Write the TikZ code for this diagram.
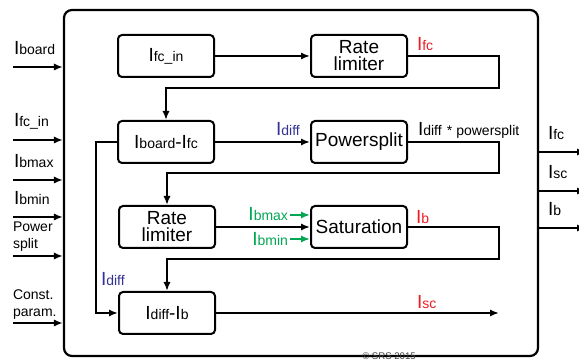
\documentclass[tikz,border=0pt]{standalone}
\usepackage{fontspec}
\setmainfont{Liberation Sans}
\usetikzlibrary{arrows.meta}
\definecolor{sigred}{RGB}{237,28,36}
\definecolor{sigblue}{RGB}{50,50,150}
\definecolor{siggreen}{RGB}{0,166,81}
\newcommand{\cur}[1]{I{\fontsize{7}{8}\selectfont #1}}

\begin{document}
\begin{tikzpicture}[x=0.5pt,y=-0.5pt,line width=1pt,
	>={Latex[length=4.5pt,width=3.6pt]},
	blk/.style={draw,rounded corners=2pt,minimum width=48pt,minimum height=21pt,inner sep=0pt,align=center,font=\fontsize{9.5}{8.5}\selectfont},
	lbl/.style={inner sep=0pt,font=\fontsize{9.5}{8.5}\selectfont},
	inlbl/.style={inner sep=0pt,anchor=west,align=left,font=\fontsize{7}{8.5}\selectfont}]
	\useasboundingbox (0,0) rectangle (579,362);
	\node [draw,rounded corners=4pt,line width=1.1pt,minimum width=237pt,minimum height=173pt,inner sep=0pt] (frame) at (301,183) {};
	%
	\node [blk] (fcin) at (166,56) {\cur{fc\_in}};
	\node [blk] (rate1) at (359,56) {Rate\\limiter};
	\node [blk] (boardfc) at (166,142) {\cur{board}-\cur{fc}};
	\node [blk] (psplit) at (359,142) {Powersplit};
	\node [blk] (rate2) at (167,227) {Rate\\limiter};
	\node [blk] (sat) at (359,227) {Saturation};
	\node [blk] (diffb) at (167,313) {\cur{diff}-\cur{b}};
	%
	\coordinate (fb1) at (499,88);
	\coordinate (fb2) at (499,173);
	\coordinate (fb3) at (499,259);
	\coordinate (sc) at (499,313);
	\coordinate (gmax) at (290,215);
	\coordinate (gmin) at (290,239);
	%
	\draw [->] (fcin) -- (rate1);
	\draw [->] (rate1.east) -| (fb1) -| (boardfc.north);
	\draw [->] (boardfc) -- (psplit);
	\draw [->] (psplit.east) -| (fb2) -| (rate2.north);
	\draw [->] (rate2) -- (sat);
	\draw [->] (sat.east) -| (fb3) -| (diffb.north);
	\draw [->] (boardfc.west) -- ++(-21,0) |- (diffb.west);
	\draw [->] (diffb.east) -- (sc);
	\draw [->,siggreen] (gmax) -- (gmax -| sat.west);
	\draw [->,siggreen] (gmin) -- (gmin -| sat.west);
	%
	\node [lbl,text=sigred,anchor=west] (lfc) at (416,44) {\cur{fc}};
	\node [lbl,text=sigblue] (ldiff1) at (288,129) {\cur{diff}};
	\node [lbl,anchor=west] (lps) at (417,130) {\cur{diff} {\fontsize{7}{8}\selectfont * powersplit}};
	\node [lbl,text=siggreen,anchor=east] (lbmax) at (289,214) {\cur{bmax}};
	\node [lbl,text=siggreen,anchor=east] (lbmin) at (289,239) {\cur{bmin}};
	\node [lbl,text=sigred,anchor=west] (lb) at (415,217) {\cur{b}};
	\node [lbl,text=sigblue,anchor=west] (ldiff2) at (100,279) {\cur{diff}};
	\node [lbl,text=sigred,anchor=west] (lsc) at (416,302) {\cur{sc}};
	%
	% inputs
	\foreach \y/\name/\txt in {67/iboard/\cur{board}, 140/ifcin/\cur{fc\_in}, 180/ibmax/\cur{bmax}, 217/ibmin/\cur{bmin}}{
		\coordinate (\name) at (13,\y);
		\draw [->] (\name) -- (\name -| frame.west);
		\node [lbl,anchor=west] at (13,\y-19) {\txt};
	}
	\coordinate (ipsplit) at (13,256);
	\draw [->] (ipsplit) -- (ipsplit -| frame.west);
	\node [inlbl] (tpsplit) at (12,237) {Power\\split};
	\coordinate (iconst) at (13,323);
	\draw [->] (iconst) -- (iconst -| frame.west);
	\node [inlbl] (tconst) at (12,305) {Const.\\param.};
	%
	% outputs
	\foreach \y/\name/\txt in {152/ofc/\cur{fc}, 191/osc/\cur{sc}, 228/ob/\cur{b}}{
		\coordinate (\name) at (586,\y);
		\draw [->] (\name -| frame.east) -- (\name);
		\node [lbl,anchor=west] at (547,\y-19) {\txt};
	}
	%
	\node [inner sep=0pt,text=black!75,font=\fontsize{4.8}{5}\selectfont] (copy) at (389,356) {\textcopyright\ SRS 2015};
\end{tikzpicture}
\end{document}
